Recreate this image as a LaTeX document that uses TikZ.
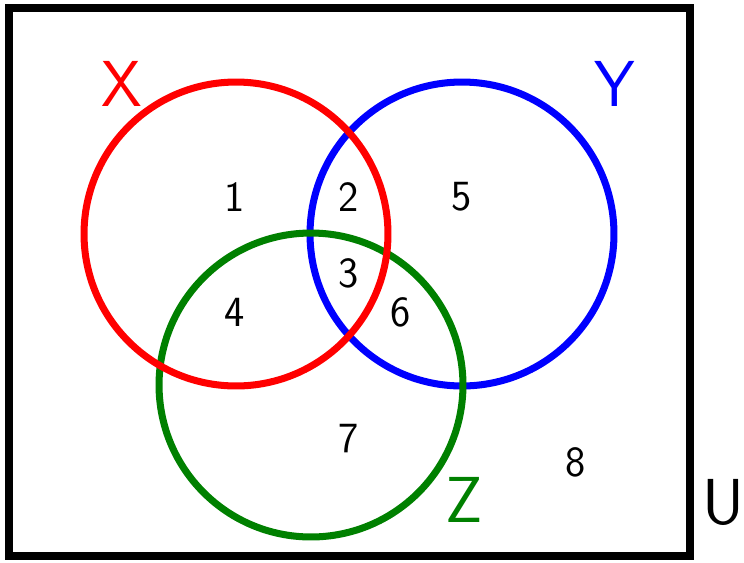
\documentclass[tikz,border=0pt]{standalone}
\usepackage{tikz}
\usetikzlibrary{positioning}
\definecolor{setred}{RGB}{255,0,0}
\definecolor{setblue}{RGB}{0,0,255}
\definecolor{setgreen}{RGB}{0,128,0}
\tikzset{
  setcircle/.style={draw,circle,line width=4pt,minimum size=6.08cm,inner sep=0pt},
  setname/.style={font=\sffamily\fontsize{37}{44}\selectfont},
  region/.style={font=\sffamily\fontsize{24.5}{30}\selectfont}
}

\begin{document}
\begin{tikzpicture}[x=.02cm,y=-.02cm]
\useasboundingbox (0,0) rectangle (744,562);
% Uniwersum i trzy zbiory.
\draw[line width=4.5pt] (9,8) rectangle (690,556);
\node[setcircle,setblue] (Y) at (462,234) {};
\node[setcircle,setgreen] (Z) at (311,385) {};
\node[setcircle,setred] (X) at (236,234) {};
\node[setname,setred] (Xlab) at (122,84) {X};
\node[setname,setblue] (Ylab) at (615,84) {Y};
\node[setname,setgreen] (Zlab) at (464,500) {Z};
\node[setname,inner sep=1pt] (Ulab) at (723,502) {U};
% Numery obszarów.
\node[region] (r1) at (235,197) {1};
\node[region] (r2) at (349,197) {2};
\node[region] (r3) at (349,273) {3};
\node[region] (r4) at (235,312) {4};
\node[region] (r5) at (462,197) {5};
\node[region] (r6) at (401,312) {6};
\node[region] (r7) at (349,439) {7};
\node[region] (r8) at (576,462) {8};
\end{tikzpicture}
\end{document}
